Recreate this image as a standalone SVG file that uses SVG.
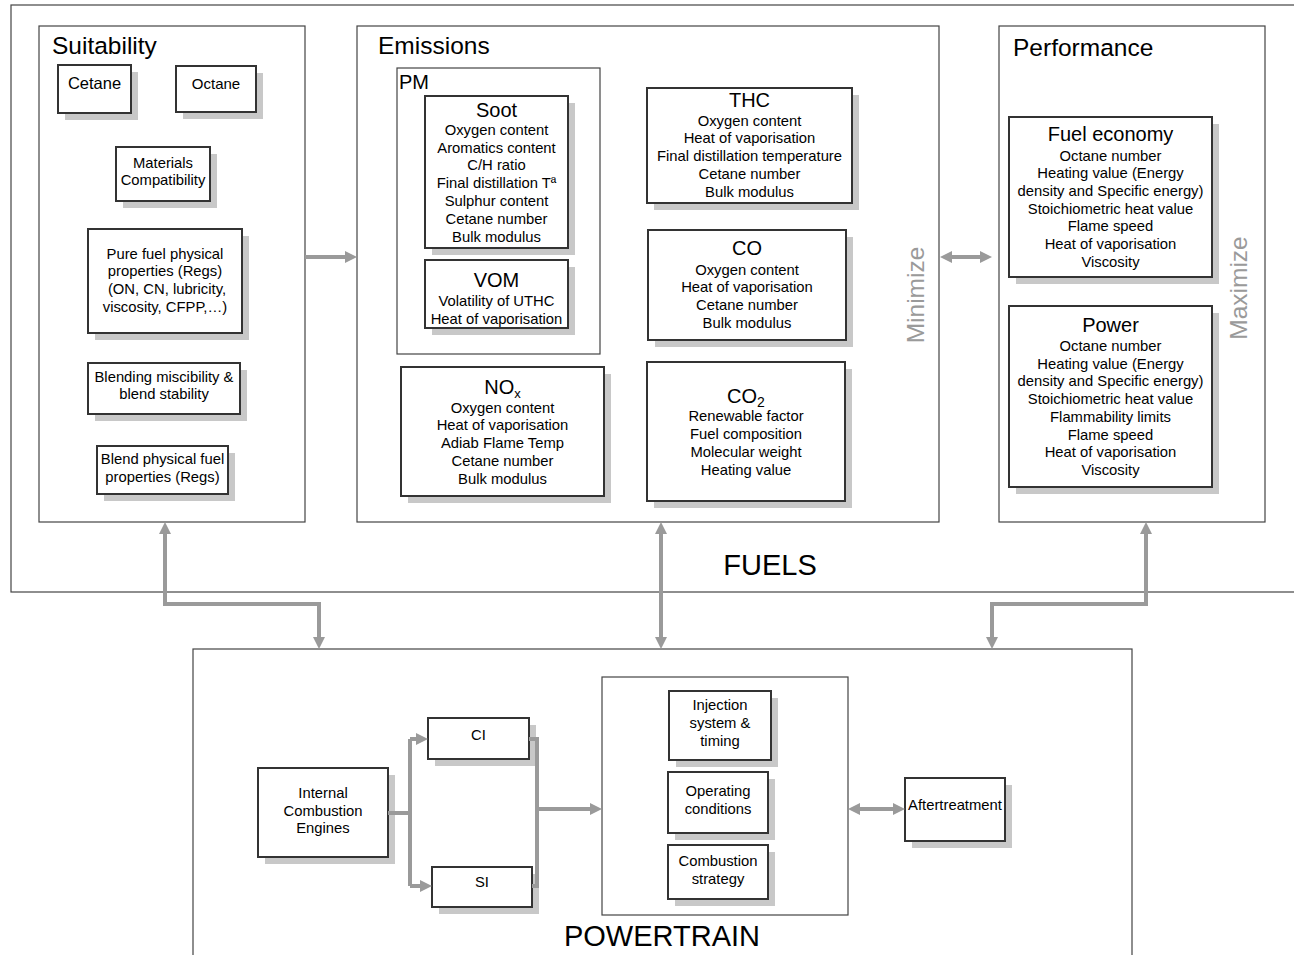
<svg xmlns="http://www.w3.org/2000/svg" width="1294" height="955" viewBox="0 0 1294 955">
<style>
text{font-family:"Liberation Sans",Arial,sans-serif;fill:#000;text-anchor:middle}
.b{font-size:14.8px}
.t{font-size:20px}
.h{font-size:24.5px;text-anchor:start}
.big{font-size:29px}
.g{font-size:24.5px;fill:#9a9a9a}
.panel{fill:#fff;stroke:#444;stroke-width:1.2}
.box{fill:#fff;stroke:#333;stroke-width:2}
.sh{fill:#c8c8c8}
.c{fill:none;stroke:#9a9a9a;stroke-width:4}
</style>
<defs>
<marker id="ah" markerUnits="userSpaceOnUse" markerWidth="12" markerHeight="12" refX="8" refY="6" orient="auto-start-reverse">
<path d="M0,0 L12,6 L0,12 z" fill="#9a9a9a"/>
</marker>
</defs>
<rect width="1294" height="955" fill="#fff"/>

<g id="fuels">
<rect x="11" y="5" width="1300" height="587" class="panel"/>
<text x="770" y="575" class="big">FUELS</text>
</g>

<g id="suitability">
<rect x="39" y="26" width="266" height="496" class="panel"/>
<text x="52" y="54" class="h">Suitability</text>
</g>
<g id="cetane"><rect x="65" y="72" width="73" height="48" class="sh"/><rect x="58" y="65" width="73" height="48" class="box"/><text x="94.5" y="89" style="font-size:16.5px">Cetane</text></g>
<g id="octane"><rect x="183" y="73" width="80" height="46" class="sh"/><rect x="176" y="66" width="80" height="46" class="box"/><text x="216" y="89" style="font-size:15px">Octane</text></g>
<g id="materials"><rect x="123" y="154" width="94" height="54" class="sh"/><rect x="116" y="147" width="94" height="54" class="box"/><text x="163" y="168" class="b">Materials</text><text x="163" y="185" class="b">Compatibility</text></g>
<g id="purefuel"><rect x="95" y="236" width="154" height="104" class="sh"/><rect x="88" y="229" width="154" height="104" class="box"/><text x="165" y="259" class="b">Pure fuel physical</text><text x="165" y="276" class="b">properties (Regs)</text><text x="167" y="294" class="b">(ON, CN, lubricity,</text><text x="165" y="312" class="b">viscosity, CFPP,…)</text></g>
<g id="blending"><rect x="95" y="370" width="152" height="51" class="sh"/><rect x="88" y="363" width="152" height="51" class="box"/><text x="164" y="382" class="b">Blending miscibility &amp;</text><text x="164" y="399" class="b">blend stability</text></g>
<g id="blendphys"><rect x="104" y="453" width="131" height="48" class="sh"/><rect x="97" y="446" width="131" height="48" class="box"/><text x="162.5" y="464" class="b">Blend physical fuel</text><text x="162.5" y="482" class="b">properties (Regs)</text></g>

<g id="emissions">
<rect x="357" y="26" width="582" height="496" class="panel"/>
<text x="378" y="54" class="h">Emissions</text>
</g>
<g id="pm">
<rect x="397" y="68" width="203" height="286" fill="#fff" stroke="#444" stroke-width="1.2"/>
<text x="399" y="89" class="t" style="text-anchor:start">PM</text>
</g>
<g id="soot"><rect x="432" y="103" width="143" height="152" class="sh"/><rect x="425" y="96" width="143" height="152" class="box"/>
<text x="496.5" y="117" class="t">Soot</text>
<text x="496.5" y="135" class="b">Oxygen content</text><text x="496.5" y="153" class="b">Aromatics content</text><text x="496.5" y="170" class="b">C/H ratio</text><text x="496.5" y="188" class="b">Final distillation Tª</text><text x="496.5" y="206" class="b">Sulphur content</text><text x="496.5" y="224" class="b">Cetane number</text><text x="496.5" y="242" class="b">Bulk modulus</text></g>
<g id="vom"><rect x="432" y="267" width="143" height="68" class="sh"/><rect x="425" y="260" width="143" height="68" class="box"/>
<text x="496.5" y="287" class="t">VOM</text><text x="496.5" y="306" class="b">Volatility of UTHC</text><text x="496.5" y="324" class="b">Heat of vaporisation</text></g>
<g id="thc"><rect x="654" y="95" width="205" height="115" class="sh"/><rect x="647" y="88" width="205" height="115" class="box"/>
<text x="749.5" y="107" class="t">THC</text><text x="749.5" y="126" class="b">Oxygen content</text><text x="749.5" y="143" class="b">Heat of vaporisation</text><text x="749.5" y="161" class="b">Final distillation temperature</text><text x="749.5" y="179" class="b">Cetane number</text><text x="749.5" y="197" class="b">Bulk modulus</text></g>
<g id="co"><rect x="655" y="237" width="198" height="110" class="sh"/><rect x="648" y="230" width="198" height="110" class="box"/>
<text x="747" y="255" class="t">CO</text><text x="747" y="275" class="b">Oxygen content</text><text x="747" y="292" class="b">Heat of vaporisation</text><text x="747" y="310" class="b">Cetane number</text><text x="747" y="328" class="b">Bulk modulus</text></g>
<g id="nox"><rect x="408" y="374" width="203" height="129" class="sh"/><rect x="401" y="367" width="203" height="129" class="box"/>
<text x="502.5" y="394" class="t">NO<tspan style="font-size:13px" dy="4">x</tspan></text><text x="502.5" y="413" class="b">Oxygen content</text><text x="502.5" y="430" class="b">Heat of vaporisation</text><text x="502.5" y="448" class="b">Adiab Flame Temp</text><text x="502.5" y="466" class="b">Cetane number</text><text x="502.5" y="484" class="b">Bulk modulus</text></g>
<g id="co2"><rect x="654" y="369" width="198" height="139" class="sh"/><rect x="647" y="362" width="198" height="139" class="box"/>
<text x="746" y="403" class="t">CO<tspan style="font-size:14px" dy="4">2</tspan></text><text x="746" y="421" class="b">Renewable factor</text><text x="746" y="439" class="b">Fuel composition</text><text x="746" y="457" class="b">Molecular weight</text><text x="746" y="475" class="b">Heating value</text></g>
<g id="minimize"><text class="g" transform="translate(924,295) rotate(-90)">Minimize</text></g>

<g id="performance">
<rect x="999" y="26" width="266" height="496" class="panel"/>
<text x="1013" y="56" class="h">Performance</text>
</g>
<g id="fueleconomy"><rect x="1016" y="124" width="203" height="160" class="sh"/><rect x="1009" y="117" width="203" height="160" class="box"/>
<text x="1110.5" y="141" class="t">Fuel economy</text><text x="1110.5" y="161" class="b">Octane number</text><text x="1110.5" y="178" class="b">Heating value (Energy</text><text x="1110.5" y="196" class="b">density and Specific energy)</text><text x="1110.5" y="214" class="b">Stoichiometric heat value</text><text x="1110.5" y="231" class="b">Flame speed</text><text x="1110.5" y="249" class="b">Heat of vaporisation</text><text x="1110.5" y="267" class="b">Viscosity</text></g>
<g id="power"><rect x="1016" y="313" width="203" height="181" class="sh"/><rect x="1009" y="306" width="203" height="181" class="box"/>
<text x="1110.5" y="332" class="t">Power</text><text x="1110.5" y="351" class="b">Octane number</text><text x="1110.5" y="369" class="b">Heating value (Energy</text><text x="1110.5" y="386" class="b">density and Specific energy)</text><text x="1110.5" y="404" class="b">Stoichiometric heat value</text><text x="1110.5" y="422" class="b">Flammability limits</text><text x="1110.5" y="440" class="b">Flame speed</text><text x="1110.5" y="457" class="b">Heat of vaporisation</text><text x="1110.5" y="475" class="b">Viscosity</text></g>
<g id="maximize"><text class="g" transform="translate(1247,288) rotate(-90)">Maximize</text></g>

<g id="powertrain">
<rect x="193" y="649" width="939" height="330" class="panel"/>
<text x="662" y="946" class="big">POWERTRAIN</text>
</g>
<g id="ice"><rect x="265" y="775" width="130" height="89" class="sh"/><rect x="258" y="768" width="130" height="89" class="box"/>
<text x="323" y="798" class="b">Internal</text><text x="323" y="816" class="b">Combustion</text><text x="323" y="833" class="b">Engines</text></g>
<g id="ci"><rect x="435" y="725" width="101" height="41" class="sh"/><rect x="428" y="718" width="101" height="41" class="box"/><text x="478.5" y="740" class="b">CI</text></g>
<g id="si"><rect x="439" y="874" width="100" height="40" class="sh"/><rect x="432" y="867" width="100" height="40" class="box"/><text x="482" y="887" class="b">SI</text></g>
<g id="engine">
<rect x="602" y="677" width="246" height="238" fill="#fff" stroke="#444" stroke-width="1.2"/>
</g>
<g id="injection"><rect x="676" y="698" width="102" height="69" class="sh"/><rect x="669" y="691" width="102" height="69" class="box"/>
<text x="720" y="710" class="b">Injection</text><text x="720" y="728" class="b">system &amp;</text><text x="720" y="746" class="b">timing</text></g>
<g id="operating"><rect x="675" y="779" width="100" height="61" class="sh"/><rect x="668" y="772" width="100" height="61" class="box"/>
<text x="718" y="796" class="b">Operating</text><text x="718" y="814" class="b">conditions</text></g>
<g id="combustion"><rect x="675" y="852" width="100" height="54" class="sh"/><rect x="668" y="845" width="100" height="54" class="box"/>
<text x="718" y="866" class="b">Combustion</text><text x="718" y="884" class="b">strategy</text></g>
<g id="aftertreatment"><rect x="912" y="785" width="100" height="63" class="sh"/><rect x="905" y="778" width="100" height="63" class="box"/>
<text x="955" y="810" style="font-size:14.8px">Aftertreatment</text></g>

<g id="connectors">
<path class="c" d="M305,257 H353" marker-end="url(#ah)"/>
<path class="c" d="M944,257 H988" marker-start="url(#ah)" marker-end="url(#ah)"/>
<path class="c" d="M165,526 V604 H319 V645" marker-start="url(#ah)" marker-end="url(#ah)"/>
<path class="c" d="M661,526 V645" marker-start="url(#ah)" marker-end="url(#ah)"/>
<path class="c" d="M1146,526 V604 H992 V645" marker-start="url(#ah)" marker-end="url(#ah)"/>
<path class="c" d="M388,813 H410"/>
<path class="c" d="M410,739 V886"/>
<path class="c" d="M410,739 H424" marker-end="url(#ah)"/>
<path class="c" d="M410,886 H428" marker-end="url(#ah)"/>
<path class="c" d="M529,739 H537 V886 H532"/>
<path class="c" d="M537,809 H598" marker-end="url(#ah)"/>
<path class="c" d="M852,809 H901" marker-start="url(#ah)" marker-end="url(#ah)"/>
</g>
</svg>
